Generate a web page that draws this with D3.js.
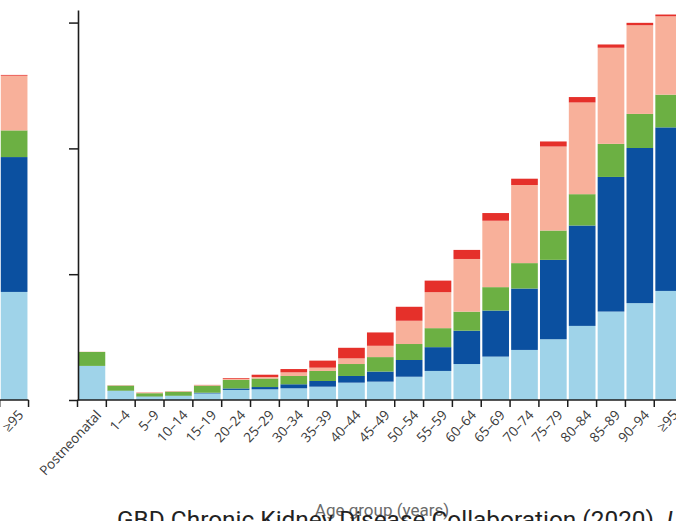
<!DOCTYPE html>
<html>
<head>
<meta charset="utf-8">
<script src="https://cdn.jsdelivr.net/npm/d3@7"></script>
<style>
  html, body { margin: 0; padding: 0; background: #fff; }
  svg { display: block; }
</style>
</head>
<body>
<svg id="chart" width="676" height="521"></svg>
<script>
// Age groups on the main panel
const ageGroups = ["Postneonatal", "1–4", "5–9", "10–14", "15–19", "20–24", "25–29",
  "30–34", "35–39", "40–44", "45–49", "50–54", "55–59", "60–64", "65–69",
  "70–74", "75–79", "80–84", "85–89", "90–94", "≥95"];

// Stacked components, bottom to top
const seriesKeys = ["s1", "s2", "s3", "s4", "s5"];
const seriesColors = ["#9fd3e9", "#0b50a0", "#6cb043", "#f8b09a", "#e5302a"];

const s1 = [271, 72, 26, 32, 52, 80, 85, 93, 106, 138, 146, 185, 231, 286, 345, 398, 483, 589, 703, 770, 867];
const s2 = [0, 2, 2, 2, 6, 12, 18, 32, 45, 53, 80, 133, 189, 265, 366, 488, 631, 798, 1070, 1233, 1300];
const s3 = [111, 40, 26, 32, 56, 68, 68, 66, 80, 95, 115, 127, 151, 151, 186, 202, 233, 249, 263, 271, 260];
const s4 = [2, 2, 6, 3, 4, 8, 12, 29, 26, 45, 90, 185, 286, 419, 528, 621, 668, 729, 764, 705, 623];
const s5 = [0, 1, 1, 1, 2, 6, 18, 26, 56, 84, 106, 111, 92, 72, 61, 50, 40, 43, 26, 19, 14];

// Neighbouring panel: only its last age group is in view
const sideGroups = ["≥95"];
const side1 = [859], side2 = [1072], side3 = [212], side4 = [435], side5 = [6];

const yTicks = [0, 1000, 2000, 3000];
const xTitle = "Age group (years)";
const sourceText = "GBD Chronic Kidney Disease Collaboration (2020). ";
const sourceItalic = "Lancet";

function rows(groups, arrs) {
  return groups.map((g, i) => {
    const r = { group: g };
    seriesKeys.forEach((k, j) => r[k] = arrs[j][i]);
    return r;
  });
}

const svg = d3.select("#chart");
const baseY = 400;
const y = d3.scaleLinear().domain([0, 3100]).range([baseY, 10]);
const stack = d3.stack().keys(seriesKeys);
const color = d3.scaleOrdinal().domain(seriesKeys).range(seriesColors);
const labelFont = "'Open Sans', sans-serif";

function drawPanel(groups, data, x0, x1) {
  const x = d3.scaleBand().domain(groups).range([x0, x1]).paddingInner(0.075).paddingOuter(0.0375);
  const step = x.step();
  const g = svg.append("g");
  const layers = stack(rows(groups, data));

  g.selectAll("g.layer").data(layers).join("g")
    .attr("class", "layer")
    .attr("fill", d => color(d.key))
    .selectAll("rect").data(d => d).join("rect")
      .attr("x", d => x(d.data.group))
      .attr("width", x.bandwidth())
      .attr("y", d => y(d[1]))
      .attr("height", d => Math.max(0, y(d[0]) - y(d[1])));

  // x baseline with ticks at the band boundaries
  const bounds = d3.range(groups.length + 1).map(i => x0 + i * step);
  g.append("line")
    .attr("x1", x0).attr("x2", x1).attr("y1", baseY).attr("y2", baseY)
    .attr("stroke", "#1c1c1c").attr("stroke-width", 1.5);
  g.selectAll("line.xt").data(bounds).join("line")
    .attr("class", "xt")
    .attr("x1", d => d).attr("x2", d => d)
    .attr("y1", baseY).attr("y2", baseY + 7)
    .attr("stroke", "#1c1c1c").attr("stroke-width", 1.5);

  // rotated age-group labels
  g.selectAll("text.xl").data(groups).join("text")
    .attr("class", "xl")
    .attr("transform", d => `translate(${x(d) + x.bandwidth() / 2 + 3},${baseY + 9}) rotate(-47)`)
    .attr("text-anchor", "end")
    .attr("dy", "0.72em")
    .attr("font-family", labelFont)
    .attr("font-size", 13.5)
    .attr("fill", "#3a3a3a")
    .text(d => d);
  return x;
}

drawPanel(sideGroups, [side1, side2, side3, side4, side5], -0.3, 28.54);
drawPanel(ageGroups, [s1, s2, s3, s4, s5], 77.5, 683.1);

// y axis of the main panel (no tick labels)
const yAxis = d3.axisLeft(y).tickValues(yTicks).tickSize(9).tickSizeOuter(0).tickFormat("");
const ya = svg.append("g").attr("transform", "translate(78,0)").call(yAxis);
ya.select(".domain").attr("stroke", "#1c1c1c").attr("stroke-width", 1.6);
ya.selectAll(".tick line").attr("stroke", "#1c1c1c").attr("stroke-width", 1.5);

// x axis title
svg.append("text")
  .attr("x", 382).attr("y", 516)
  .attr("text-anchor", "middle")
  .attr("font-family", "Roboto, sans-serif")
  .attr("font-size", 17)
  .attr("fill", "#6a6a6a")
  .text(xTitle);

// source line
const src = svg.append("text")
  .attr("x", 117).attr("y", 528)
  .attr("font-family", "Roboto, sans-serif")
  .attr("font-size", 24.4)
  .attr("fill", "#222");
src.append("tspan").text(sourceText);
src.append("tspan").attr("font-style", "italic").text(sourceItalic);
</script>
</body>
</html>
